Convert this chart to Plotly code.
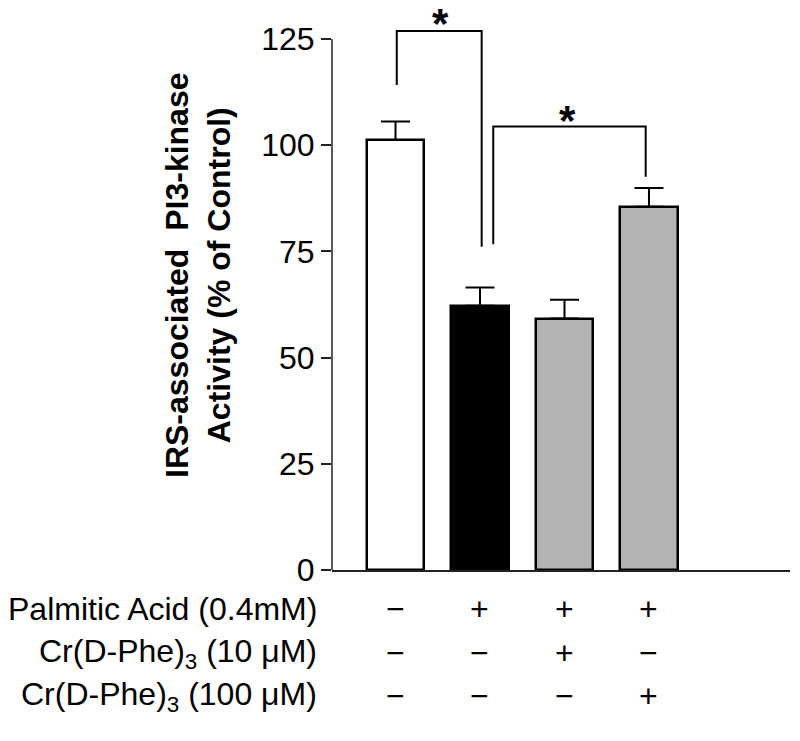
import plotly.graph_objects as go

# ---------------- data ----------------
groups = [0, 1, 2, 3]
activity = [101.2, 62.2, 59.2, 85.5]          # % of control
sem = [4.4, 4.3, 4.4, 4.4]
bar_colors = ["#ffffff", "#000000", "#b3b3b3", "#b3b3b3"]

row_labels = ["Palmitic Acid (0.4mM)",
              "Cr(D-Phe)<sub>3</sub> (10 \u03bcM)",
              "Cr(D-Phe)<sub>3</sub> (100 \u03bcM)"]
row_signs = [["\u2212", "+", "+", "+"],
             ["\u2212", "\u2212", "+", "\u2212"],
             ["\u2212", "\u2212", "\u2212", "+"]]

y_ticks = [0, 25, 50, 75, 100, 125]

# significance brackets: (x_left, x_right, y_left_end, y_top, y_right_end, star_x, star_y)
brackets = [
    (0.015, 1.02, 114.2, 126.9, 76.1, 0.527, 130.9),
    (1.157, 2.961, 76.7, 104.4, 92.6, 2.038, 108.1),
]

FONT = "Liberation Sans, Arial, Helvetica, sans-serif"

fig = go.Figure()
fig.add_trace(go.Bar(
    x=groups, y=activity, width=0.686,
    marker=dict(color=bar_colors, line=dict(color="black", width=2.5)),
    error_y=dict(type="data", symmetric=False, array=sem,
                 arrayminus=[0] * len(sem), color="black",
                 thickness=2, width=14.5),
    hoverinfo="skip", showlegend=False,
))

for (xl, xr, yl, yt, yr, sx, sy) in brackets:
    fig.add_trace(go.Scatter(
        x=[xl, xl, xr, xr], y=[yl, yt, yt, yr], mode="lines",
        line=dict(color="black", width=2), hoverinfo="skip", showlegend=False,
    ))
    fig.add_annotation(x=sx, y=sy, xref="x", yref="y", text="<b>*</b>",
                       showarrow=False, yshift=-10,
                       font=dict(family=FONT, size=42, color="black"),
                       xanchor="center", yanchor="middle")

# y-axis line only from 0 to 125
fig.add_shape(type="line", xref="paper", yref="y", x0=0, x1=0, y0=0, y1=125,
              line=dict(color="#222222", width=1.5))

# table of treatments below the axis
row_shift = [-39, -83, -126]
for i, lab in enumerate(row_labels):
    fig.add_annotation(x=0, y=0, xref="paper", yref="paper", text=lab,
                       showarrow=False, xanchor="right", yanchor="middle",
                       xshift=-13, yshift=row_shift[i],
                       font=dict(family=FONT, size=32, color="black"))
    for g, s in zip(groups, row_signs[i]):
        fig.add_annotation(x=g, y=0, xref="x", yref="paper", text=s,
                           showarrow=False, xanchor="center", yanchor="middle",
                           yshift=row_shift[i],
                           font=dict(family=FONT, size=32, color="black"))

# y-axis title
fig.add_annotation(x=0, y=0, xref="paper", yref="paper",
                   text="<b>IRS-associated\u00a0 PI3-kinase<br>Activity (% of Control)</b>",
                   textangle=-90, showarrow=False, xanchor="center", yanchor="middle",
                   xshift=-134, yshift=295,
                   font=dict(family=FONT, size=32, color="black"))

# the page body adds an 8 px offset, so the figure is 8 px smaller each way
fig.update_layout(
    width=792, height=733,
    margin=dict(l=324, r=10, t=0, b=171, pad=0),
    paper_bgcolor="white", plot_bgcolor="white",
    font=dict(family=FONT, color="black"),
    xaxis=dict(range=[-0.7515, 4.669], showticklabels=False, ticks="",
               showgrid=False, zeroline=False, showline=True,
               linecolor="#222222", linewidth=1.5, fixedrange=True),
    yaxis=dict(range=[0, 132.3], tickvals=y_ticks, ticktext=[str(v) for v in y_ticks],
               ticks="outside", ticklen=10, tickwidth=1.5, tickcolor="#222222",
               showgrid=False, zeroline=False, showline=False,
               tickfont=dict(family=FONT, size=32, color="black"),
               fixedrange=True),
    bargap=0,
)

fig.write_html("out.html")
